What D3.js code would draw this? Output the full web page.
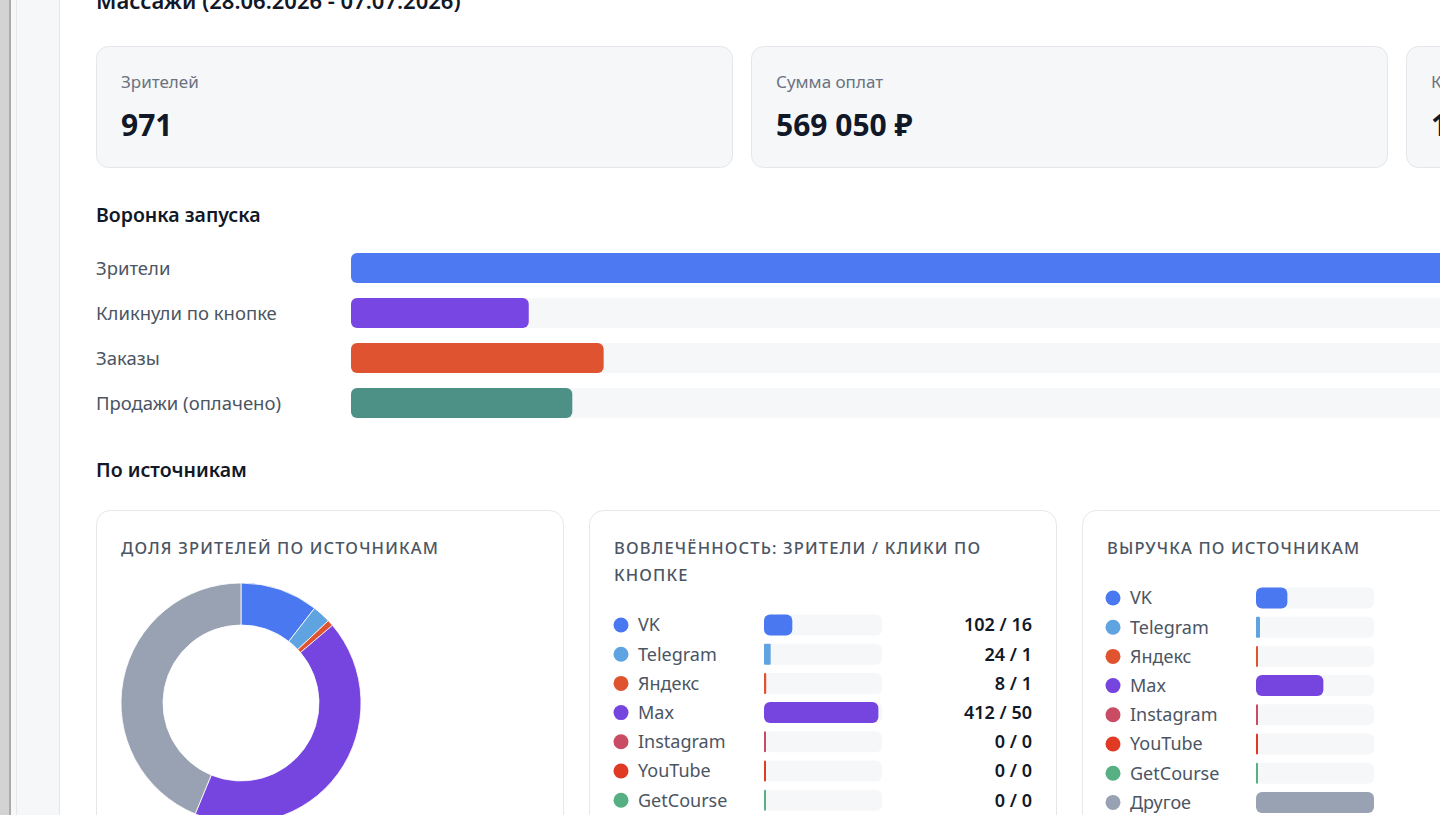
<!DOCTYPE html>
<html lang="ru">
<head>
<meta charset="utf-8">
<title>Массажи — отчёт по запуску</title>
<script src="https://cdn.jsdelivr.net/npm/d3@7"></script>
<style>
  html, body { margin: 0; padding: 0; background: #fff; overflow: hidden; }
  svg { display: block; font-family: "Noto Sans", "Open Sans", sans-serif; }
</style>
</head>
<body>
<div id="page"></div>
<script>
// ---- data ----
var reportTitle = "Массажи (28.06.2026 - 07.07.2026)";

var kpiLabels = ["Зрителей", "Сумма оплат", "Конверсия в оплату"];
var kpiValues = ["971", "569 050 ₽", "13,1 %"];

var funnelStages = ["Зрители", "Кликнули по кнопке", "Заказы", "Продажи (оплачено)"];
var funnelValues = [971, 102, 145, 127];

var sources = ["VK", "Telegram", "Яндекс", "Max", "Instagram", "YouTube", "GetCourse", "Другое"];
var sourceViewers = [102, 24, 8, 412, 0, 0, 0, 425];
var sourceClicks = [16, 1, 1, 50, 0, 0, 0, 34];
var sourceRevenue = [80900, 10300, 0, 173650, 0, 0, 0, 304200];

var cardTitles = ["Доля зрителей по источникам", "Вовлечённость: зрители / клики по\nкнопке", "Выручка по источникам", "Продажи по источникам"];

// ---- styles ----
var funnelColors = ["#4d7af3", "#7846e2", "#e05330", "#4d9186"];
var sourcePalette = ["#4a78f0", "#5fa3e1", "#e0532f", "#7645e0", "#c94c64", "#e03a25", "#56b083", "#98a2b3"];
var color = d3.scaleOrdinal().domain(sources).range(sourcePalette);

var W = 1440, H = 815;
var left = 96, contentRight = 2043;

var svg = d3.select("#page").append("svg")
    .attr("width", W)
    .attr("height", H);

// left app chrome
svg.append("rect").attr("x", 0).attr("y", 0).attr("width", 9).attr("height", H).attr("fill", "#d3d3d3");
svg.append("rect").attr("x", 9).attr("y", 0).attr("width", 2).attr("height", H).attr("fill", "#ababab");
svg.append("rect").attr("x", 11).attr("y", 0).attr("width", 49).attr("height", H).attr("fill", "#f6f7f9");
svg.append("rect").attr("x", 16).attr("y", 0).attr("width", 1).attr("height", H).attr("fill", "#e6e7ea");
svg.append("rect").attr("x", 59).attr("y", 0).attr("width", 1).attr("height", H).attr("fill", "#e4e6ea");

// title (scrolled, mostly above the view)
svg.append("text")
    .attr("x", left).attr("y", 9)
    .attr("font-size", 22).attr("font-weight", 600).attr("fill", "#111827")
    .text(reportTitle);

// ---- KPI cards ----
var kpiW = 637, kpiGap = 18;
var kpi = svg.selectAll("g.kpi")
    .data(kpiLabels)
    .enter().append("g")
    .attr("class", "kpi")
    .attr("transform", function(d, i) { return "translate(" + (left + i * (kpiW + kpiGap)) + ",46)"; });

kpi.append("rect")
    .attr("x", 0.5).attr("y", 0.5)
    .attr("width", kpiW - 1).attr("height", 121)
    .attr("rx", 12)
    .attr("fill", "#f6f7f9").attr("stroke", "#e4e6eb");

kpi.append("text")
    .attr("x", 25).attr("y", 42)
    .attr("font-size", 17).attr("fill", "#6b7280")
    .text(function(d) { return d; });

kpi.append("text")
    .attr("x", 25).attr("y", 90)
    .attr("font-size", 30).attr("font-weight", 700).attr("fill", "#111827")
    .text(function(d, i) { return kpiValues[i]; });

// ---- funnel ----
svg.append("text")
    .attr("x", left).attr("y", 222)
    .attr("font-size", 19.5).attr("font-weight", 600).attr("fill", "#111827")
    .text("Воронка запуска");

var trackX = 351;
var fx = d3.scaleLinear()
    .domain([0, d3.max(funnelValues)])
    .range([0, contentRight - trackX]);
var fy = d3.scaleBand()
    .domain(funnelStages)
    .range([253, 253 + 45 * funnelStages.length - 15])
    .paddingInner(15 / 45);

var frow = svg.selectAll("g.frow")
    .data(funnelStages)
    .enter().append("g")
    .attr("class", "frow");

frow.append("text")
    .attr("x", left)
    .attr("y", function(d) { return fy(d) + fy.bandwidth() / 2 + 6.5; })
    .attr("font-size", 18.5).attr("fill", "#4b5563")
    .text(function(d) { return d; });

frow.append("rect")
    .attr("x", trackX)
    .attr("y", function(d) { return fy(d); })
    .attr("width", fx.range()[1])
    .attr("height", fy.bandwidth())
    .attr("rx", 6)
    .attr("fill", "#f6f7f9");

frow.append("rect")
    .attr("x", trackX)
    .attr("y", function(d) { return fy(d); })
    .attr("width", function(d, i) { return fx(funnelValues[i]); })
    .attr("height", fy.bandwidth())
    .attr("rx", 6)
    .attr("fill", function(d, i) { return funnelColors[i]; });

// ---- by source ----
svg.append("text")
    .attr("x", left).attr("y", 477)
    .attr("font-size", 19.5).attr("font-weight", 600).attr("fill", "#111827")
    .text("По источникам");

var cardW = 468, cardGap = 25;
var cards = svg.selectAll("g.card")
    .data(cardTitles)
    .enter().append("g")
    .attr("class", "card")
    .attr("transform", function(d, i) { return "translate(" + (left + i * (cardW + cardGap)) + ",510)"; });

cards.append("rect")
    .attr("x", 0.5).attr("y", 0.5)
    .attr("width", cardW - 1).attr("height", 400)
    .attr("rx", 14)
    .attr("fill", "#fff").attr("stroke", "#e5e7eb");

cards.append("text")
    .attr("font-size", 16.5).attr("font-weight", 500)
    .attr("letter-spacing", 1.15)
    .attr("fill", "#4b5563")
    .each(function(d) {
        var t = d3.select(this);
        d.toUpperCase().split("\n").forEach(function(line, k) {
            t.append("tspan").attr("x", 25).attr("y", 44 + k * 27).text(line);
        });
    });

// donut: share of viewers
var donut = svg.append("g").attr("transform", "translate(241,703)");
var pie = d3.pie().sort(null).value(function(d) { return d.v; });
var arc = d3.arc().innerRadius(78).outerRadius(120);
donut.selectAll("path")
    .data(pie(sources.map(function(s, i) { return {s: s, v: sourceViewers[i]}; })))
    .enter().append("path")
    .attr("d", arc)
    .attr("fill", function(d) { return color(d.data.s); })
    .attr("stroke", "#fff")
    .attr("stroke-width", function(d) { return d.value > 0 ? 0.8 : 0; });

// bar lists
function barList(x0, y0, values, fmt) {
    var trackW = 118;
    var bx = d3.scaleLinear().domain([0, d3.max(values)]).range([0, trackW]);
    var by = d3.scaleBand().domain(sources).range([y0, y0 + 29.2 * sources.length]);

    var row = svg.append("g").selectAll("g")
        .data(sources)
        .enter().append("g")
        .attr("transform", function(d) { return "translate(0," + (by(d) + by.bandwidth() / 2) + ")"; });

    row.append("circle")
        .attr("cx", x0 + 7).attr("cy", 0).attr("r", 7.5)
        .attr("fill", function(d) { return color(d); });

    row.append("text")
        .attr("x", x0 + 24).attr("y", 6.3)
        .attr("font-size", 18).attr("fill", "#4b5563")
        .text(function(d) { return d; });

    row.append("rect")
        .attr("x", x0 + 150).attr("y", -10.5)
        .attr("width", trackW).attr("height", 21)
        .attr("rx", 6).attr("fill", "#f6f7f9");

    row.append("rect")
        .attr("x", x0 + 150).attr("y", -10.5)
        .attr("width", function(d, i) { return Math.max(2, bx(values[i])); })
        .attr("height", 21)
        .attr("rx", function(d, i) { return bx(values[i]) < 12 ? 1 : 6; })
        .attr("fill", function(d) { return color(d); });

    row.append("text")
        .attr("x", x0 + 418).attr("y", 6.3)
        .attr("text-anchor", "end")
        .attr("font-size", 18).attr("font-weight", 600).attr("fill", "#111827")
        .text(function(d, i) { return fmt(i); });
}

barList(614, 610.4, sourceViewers, function(i) { return sourceViewers[i] + " / " + sourceClicks[i]; });

var rub = d3.formatLocale({decimal: ",", thousands: "\u00a0", grouping: [3], currency: ["", " ₽"]}).format("$,.0f");
barList(1106, 583.4, sourceRevenue, function(i) { return rub(sourceRevenue[i]); });
</script>
</body>
</html>
